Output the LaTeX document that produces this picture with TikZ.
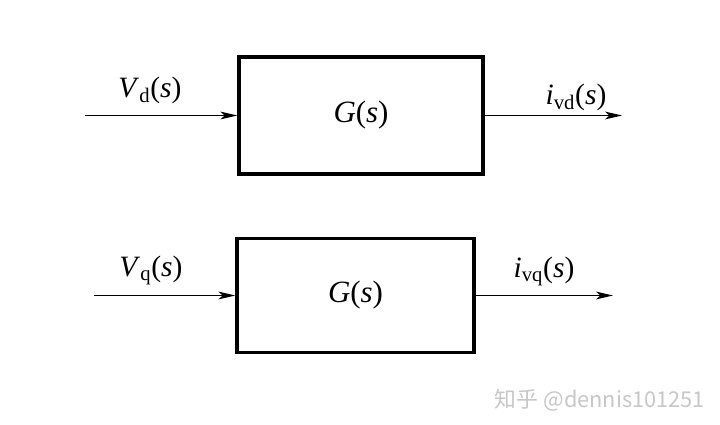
\documentclass[tikz,border=0pt]{standalone}
\usepackage{fontspec}
\setmainfont{Liberation Serif}
\newfontfamily\cjkfont{Noto Sans CJK SC}
\usetikzlibrary{arrows.meta, positioning}

\tikzset{
	block/.style={draw, line width=2.3pt, fill=white, font=\fontsize{22}{26}\selectfont},
	sig/.style={line width=1.1pt, -{Stealth[length=12pt, width=5.5pt, inset=3pt]}},
	siglabel/.style={anchor=base, inner sep=0pt, font=\fontsize{21}{25}\selectfont}
}

\begin{document}
\begin{tikzpicture}[x=0.025cm, y=-0.025cm]
			\useasboundingbox (0,0) rectangle (720,425);
			% upper channel
			\node[block, minimum width=6.1cm, minimum height=2.925cm] (Gd) at (361,115.5) {\textit{G}(\textit{s})};
			\coordinate (vdin) at (85,115.5);
			\coordinate (ivdout) at (622,115.5);
			\draw[sig] (vdin) -- (Gd.west);
			\draw[sig] (Gd.east) -- (ivdout);
			\node[siglabel] (vdlab) at (150,98) {\textit{V}\textsubscript{d}(\textit{s})};
			\node[siglabel] (ivdlab) at (576,105) {\textit{i}\textsubscript{vd}(\textit{s})};
			% lower channel
			\node[block, minimum width=5.925cm, minimum height=2.85cm] (Gq) at (355.5,295.5) {\textit{G}(\textit{s})};
			\coordinate (vqin) at (94,295.5);
			\coordinate (ivqout) at (613,295.5);
			\draw[sig] (vqin) -- (Gq.west);
			\draw[sig] (Gq.east) -- (ivqout);
			\node[siglabel] (vqlab) at (151,276) {\textit{V}\textsubscript{q}(\textit{s})};
			\node[siglabel] (ivqlab) at (544,277) {\textit{i}\textsubscript{vq}(\textit{s})};
			% watermark
			\node[text=black!22, font=\fontsize{15.5}{18}\selectfont\cjkfont] (mark) at (600,400) {知乎 @dennis101251};
		\end{tikzpicture}
\end{document}
